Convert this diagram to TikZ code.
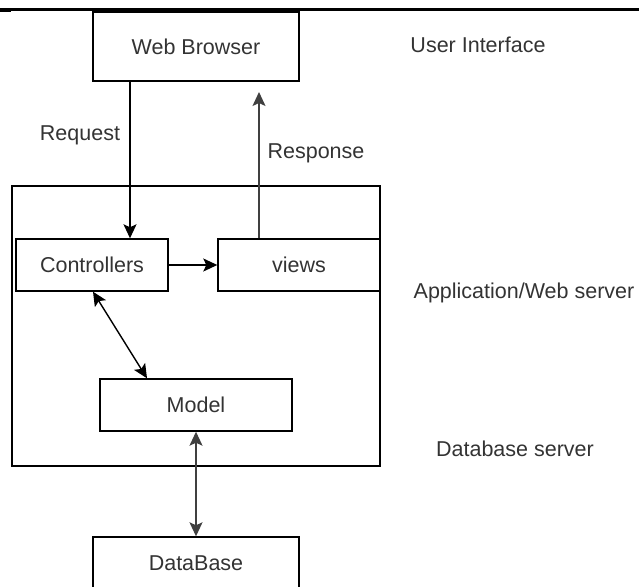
\documentclass[tikz,border=0pt]{standalone}
\usepackage{fontspec}
\setmainfont{Liberation Sans}
\usetikzlibrary{arrows.meta}
\definecolor{txt}{HTML}{333333}
\tikzset{
  box/.style={draw=black, line width=1.4pt, rectangle, inner sep=0pt, text=txt, font=\fontsize{21.5}{24}\selectfont},
  lbl/.style={inner sep=0pt, text=txt, font=\fontsize{21.5}{24}\selectfont},
  tip/.style={Stealth[length=14pt,width=13pt,inset=3pt]},
  arr/.style={line width=1.4pt, -{Stealth[length=14pt,width=13pt,inset=3pt]}},
  darr/.style={line width=1.4pt, {Stealth[length=14pt,width=13pt,inset=3pt]}-{Stealth[length=14pt,width=13pt,inset=3pt]}},
}
\begin{document}
\begin{tikzpicture}[x=1pt,y=-1pt]
\useasboundingbox (0,0) rectangle (639,586);
\clip (0,0) rectangle (639,586);
% top rule
\fill[black] (0,8) rectangle (639,11.5);
\fill[black] (0,11) rectangle (11,12.5);
% outer application box
\draw[line width=1.4pt] (12,186) rectangle (380,466);
% boxes
\node[box, minimum width=206pt, minimum height=69pt] (web) at (196,46.5) {Web Browser};
\node[box, minimum width=152pt, minimum height=52pt] (ctrl) at (92,265) {Controllers};
\node[box, minimum width=162pt, minimum height=52pt] (views) at (299,265) {views};
\node[box, minimum width=192pt, minimum height=52pt] (model) at (196,405) {Model};
\node[box, minimum width=206pt, minimum height=52pt] (db) at (196,563) {DataBase};
% labels
\node[lbl] (ui) at (478,45) {User Interface};
\node[lbl] (req) at (80,135) {Request};
\node[lbl] (resp) at (316,153) {Response};
\node[lbl] (app) at (524,293) {Application/Web server};
\node[lbl] (dbs) at (515,449) {Database server};
% connectors
\coordinate (resptip) at (259,92);
\draw[arr] ([xshift=-66pt]web.south) -- ([xshift=-66pt]web.south |- ctrl.north);
\draw[arr, draw=black!75] ([xshift=-40pt]views.north) -- (resptip);
\draw[arr] (ctrl.east) -- (views.west);
\draw[darr] ([xshift=1pt]ctrl.south) -- ([xshift=-49pt]model.north);
\draw[darr, draw=black!75] (model.south) -- (db.north);
\end{tikzpicture}
\end{document}
